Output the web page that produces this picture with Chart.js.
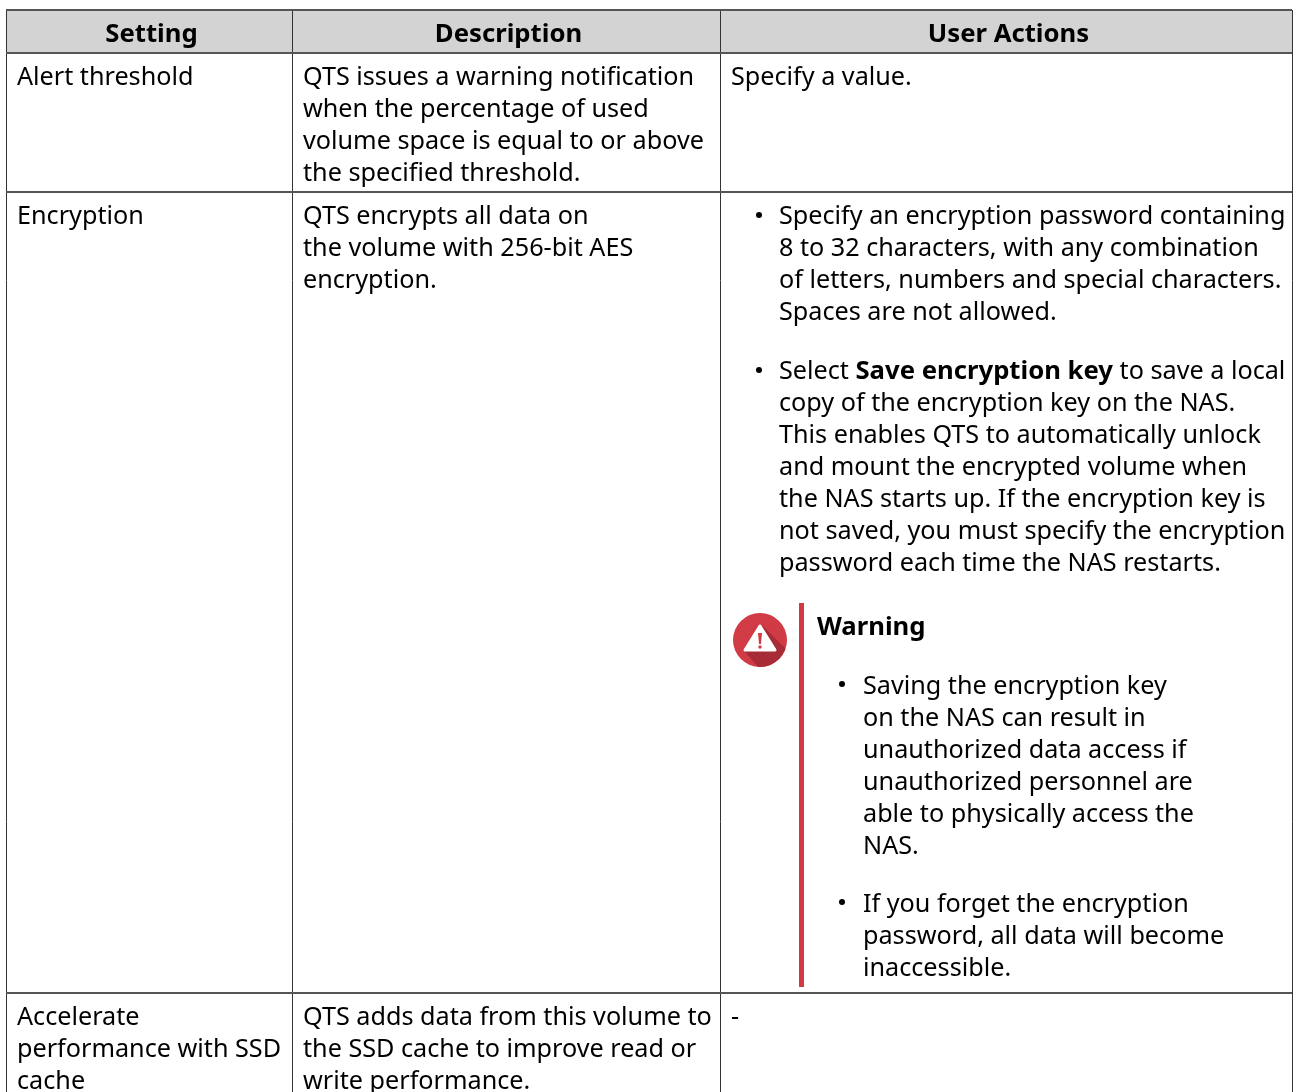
<!DOCTYPE html>
<html>
<head>
<meta charset="utf-8">
<title>Volume settings</title>
<script src="https://cdn.jsdelivr.net/npm/chart.js@4"></script>
<style>
  html, body { margin: 0; padding: 0; background: #fff; overflow: hidden; }
  canvas { display: block; }
</style>
</head>
<body>
<canvas id="table" width="1297" height="1092"></canvas>
<script>
// table content
const headers = ['Setting', 'Description', 'User Actions'];
const alertSetting = ['Alert threshold'];
const alertDescription = ['QTS issues a warning notification', 'when the percentage of used', 'volume space is equal to or above', 'the specified threshold.'];
const alertAction = ['Specify a value.'];
const encryptionSetting = ['Encryption'];
const encryptionDescription = ['QTS encrypts all data on', 'the volume with 256-bit AES', 'encryption.'];
const passwordBullet = ['Specify an encryption password containing', '8 to 32 characters, with any combination', 'of letters, numbers and special characters.', 'Spaces are not allowed.'];
const saveKeyLead = ['Select ', 'Save encryption key', ' to save a local'];
const saveKeyBullet = ['copy of the encryption key on the NAS.', 'This enables QTS to automatically unlock', 'and mount the encrypted volume when', 'the NAS starts up. If the encryption key is', 'not saved, you must specify the encryption', 'password each time the NAS restarts.'];
const warningTitle = ['Warning'];
const warningBullet1 = ['Saving the encryption key', 'on the NAS can result in', 'unauthorized data access if', 'unauthorized personnel are', 'able to physically access the', 'NAS.'];
const warningBullet2 = ['If you forget the encryption', 'password, all data will become', 'inaccessible.'];
const ssdSetting = ['Accelerate', 'performance with SSD', 'cache'];
const ssdDescription = ['QTS adds data from this volume to', 'the SSD cache to improve read or', 'write performance.'];
const ssdAction = ['-'];

// table structure, in page pixels
const columnEdges = [6, 292, 720, 1292];
const rowEdges = [10, 53, 192, 993];
const warningRuleX = [801.5, 801.5];
const warningRuleY = [603, 987];

const FONT = '"Noto Sans", sans-serif';
const SIZE = 25.2;
const BOLD_SIZE = 25.7;
const LINE = 32;

const tablePlugin = {
  id: 'tablePlugin',
  beforeDraw(chart) {
    const { ctx, scales: { x, y } } = chart;
    ctx.save();
    ctx.fillStyle = '#d3d3d3';
    ctx.fillRect(x.getPixelForValue(columnEdges[0]), y.getPixelForValue(rowEdges[0]),
      x.getPixelForValue(columnEdges[3]) - x.getPixelForValue(columnEdges[0]),
      y.getPixelForValue(rowEdges[1]) - y.getPixelForValue(rowEdges[0]));
    ctx.restore();
  },
  afterDraw(chart) {
    const { ctx, scales: { x, y } } = chart;

    function block(lines, left, base, bold) {
      ctx.font = bold ? '700 ' + BOLD_SIZE + 'px ' + FONT : SIZE + 'px ' + FONT;
      ctx.textAlign = 'left';
      lines.forEach((t, i) => ctx.fillText(t, x.getPixelForValue(left), y.getPixelForValue(base + i * LINE)));
    }

    function bullet(left, base) {
      ctx.beginPath();
      ctx.arc(x.getPixelForValue(left), y.getPixelForValue(base), 3, 0, Math.PI * 2);
      ctx.fill();
    }

    ctx.save();
    ctx.fillStyle = '#000';
    ctx.textBaseline = 'alphabetic';
    ctx.fontKerning = 'normal';

    // header row
    ctx.font = '700 ' + BOLD_SIZE + 'px ' + FONT;
    ctx.textAlign = 'center';
    headers.forEach((h, i) => {
      ctx.fillText(h, x.getPixelForValue((columnEdges[i] + columnEdges[i + 1]) / 2 + 2.5), y.getPixelForValue(42));
    });

    // first row
    block(alertSetting, 17, 85);
    block(alertDescription, 303, 85);
    block(alertAction, 731, 85);

    // second row
    block(encryptionSetting, 17, 224);
    block(encryptionDescription, 303, 224);
    bullet(759, 215);
    block(passwordBullet, 779, 224);
    bullet(759, 370);

    let px = 779;
    saveKeyLead.forEach((t, i) => {
      block([t], px, 379, i === 1);
      px += ctx.measureText(t).width;
    });
    block(saveKeyBullet, 779, 411);

    block(warningTitle, 817, 635, true);
    bullet(842, 684);
    block(warningBullet1, 863, 694);
    bullet(842, 902);
    block(warningBullet2, 863, 912);

    // third row, runs off the page
    block(ssdSetting, 17, 1025);
    block(ssdDescription, 303, 1025);
    block(ssdAction, 731, 1025);

    // warning icon
    const cx = x.getPixelForValue(760), cy = y.getPixelForValue(640), r = 27;
    ctx.save();
    ctx.beginPath();
    ctx.arc(cx, cy, r, 0, Math.PI * 2);
    ctx.fillStyle = '#d13b45';
    ctx.fill();
    ctx.clip();
    ctx.beginPath();
    ctx.moveTo(cx + 2, cy - 15);
    ctx.lineTo(cx + 40, cy + 23);
    ctx.lineTo(cx + 16, cy + 47);
    ctx.lineTo(cx - 15, cy + 12);
    ctx.closePath();
    ctx.fillStyle = '#a82c36';
    ctx.fill();
    ctx.restore();

    ctx.beginPath();
    ctx.moveTo(cx, cy - 14);
    ctx.lineTo(cx + 15, cy + 10);
    ctx.lineTo(cx - 15, cy + 10);
    ctx.closePath();
    ctx.lineJoin = 'round';
    ctx.lineWidth = 3;
    ctx.strokeStyle = '#fff';
    ctx.fillStyle = '#fff';
    ctx.stroke();
    ctx.fill();
    ctx.fillStyle = '#d13b45';
    ctx.beginPath();
    ctx.moveTo(cx - 2, cy - 7);
    ctx.lineTo(cx + 2, cy - 7);
    ctx.lineTo(cx + 1, cy + 4);
    ctx.lineTo(cx - 1, cy + 4);
    ctx.closePath();
    ctx.fill();
    ctx.beginPath();
    ctx.arc(cx, cy + 7, 1.7, 0, Math.PI * 2);
    ctx.fill();

    ctx.restore();
  }
};

function gridFor(edges, color, width) {
  return {
    type: 'linear',
    display: true,
    offset: false,
    ticks: { display: false },
    border: { display: false },
    afterBuildTicks(scale) {
      scale.ticks = edges.map(v => ({ value: v }));
    },
    grid: { color: color, lineWidth: width, drawTicks: false }
  };
}

new Chart(document.getElementById('table'), {
  type: 'scatter',
  data: {
    datasets: [{
      data: warningRuleX.map((v, i) => ({ x: v, y: warningRuleY[i] })),
      showLine: true,
      borderColor: '#d13b45',
      borderWidth: 5,
      pointRadius: 0
    }]
  },
  options: {
    responsive: false,
    animation: false,
    events: [],
    layout: { padding: { left: 6, right: 5, top: 10, bottom: 0 } },
    plugins: { legend: { display: false }, tooltip: { enabled: false } },
    scales: {
      x: { ...gridFor(columnEdges, '#333', 1), min: 6, max: 1292 },
      y: { ...gridFor(rowEdges, '#555', 2), min: 10, max: 1092, reverse: true }
    }
  },
  plugins: [tablePlugin]
});
</script>
</body>
</html>
